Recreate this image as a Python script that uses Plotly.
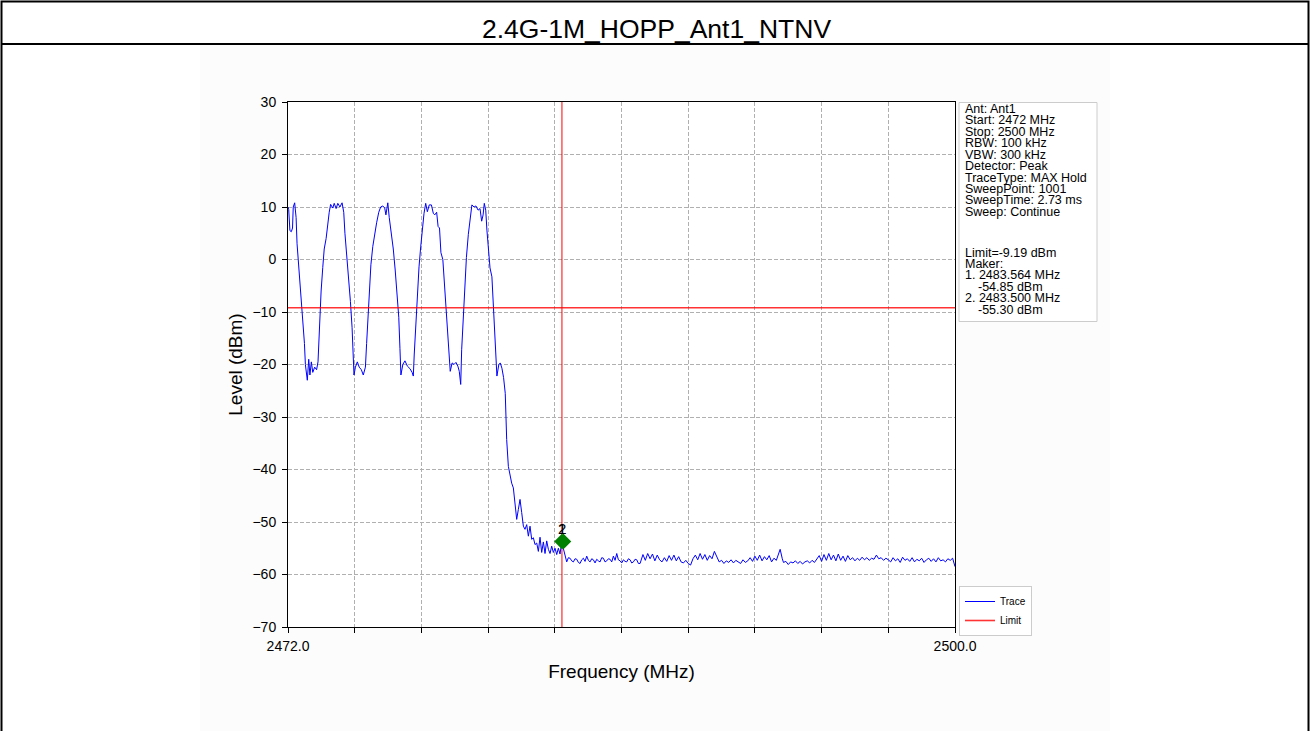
import plotly.graph_objects as go

# ---------------- data ----------------
title_text = "2.4G-1M_HOPP_Ant1_NTNV"

freq_mhz = [
    2472.00, 2472.03, 2472.08, 2472.14, 2472.19, 2472.22, 2472.28, 2472.34, 2472.38, 2472.45,
    2472.50, 2472.56, 2472.62, 2472.69, 2472.73, 2472.77, 2472.81, 2472.87, 2472.92, 2472.98,
    2473.04, 2473.12, 2473.20, 2473.26, 2473.31, 2473.39, 2473.46, 2473.52, 2473.60, 2473.67,
    2473.73, 2473.79, 2473.88, 2473.94, 2474.02, 2474.09, 2474.18, 2474.27, 2474.34, 2474.39,
    2474.46, 2474.55, 2474.62, 2474.69, 2474.73, 2474.77, 2474.83, 2474.91, 2474.99, 2475.08,
    2475.16, 2475.25, 2475.30, 2475.36, 2475.41, 2475.48, 2475.56, 2475.64, 2475.72, 2475.81,
    2475.89, 2475.98, 2476.06, 2476.11, 2476.19, 2476.25, 2476.34, 2476.42, 2476.50, 2476.58,
    2476.65, 2476.70, 2476.74, 2476.82, 2476.91, 2477.01, 2477.12, 2477.21, 2477.26, 2477.30,
    2477.36, 2477.43, 2477.50, 2477.57, 2477.65, 2477.71, 2477.78, 2477.85, 2477.93, 2478.02,
    2478.10, 2478.16, 2478.24, 2478.30, 2478.36, 2478.42, 2478.50, 2478.57, 2478.63, 2478.70,
    2478.76, 2478.81, 2478.89, 2478.97, 2479.05, 2479.13, 2479.19, 2479.25, 2479.29, 2479.35,
    2479.42, 2479.49, 2479.57, 2479.65, 2479.72, 2479.81, 2479.89, 2479.98, 2480.06, 2480.13,
    2480.19, 2480.24, 2480.30, 2480.35, 2480.41, 2480.48, 2480.56, 2480.64, 2480.71, 2480.77,
    2480.85, 2480.91, 2480.98, 2481.05, 2481.12, 2481.18, 2481.25, 2481.32, 2481.39, 2481.46,
    2481.53, 2481.60, 2481.67, 2481.74, 2481.81, 2481.88, 2481.95, 2482.02, 2482.09, 2482.16,
    2482.23, 2482.30, 2482.37, 2482.44, 2482.51, 2482.58, 2482.65, 2482.72, 2482.79, 2482.86,
    2482.93, 2483.00, 2483.07, 2483.14, 2483.21, 2483.28, 2483.35, 2483.42, 2483.49, 2483.56,
    2483.63, 2483.70, 2483.77, 2483.84, 2483.91, 2483.98, 2484.05, 2484.12, 2484.19, 2484.26,
    2484.33, 2484.40, 2484.47, 2484.54, 2484.61, 2484.68, 2484.75, 2484.82, 2484.89, 2484.96,
    2485.03, 2485.10, 2485.17, 2485.24, 2485.31, 2485.38, 2485.45, 2485.52, 2485.59, 2485.66,
    2485.73, 2485.80, 2485.87, 2485.94, 2486.01, 2486.08, 2486.15, 2486.22, 2486.29, 2486.36,
    2486.43, 2486.50, 2486.57, 2486.64, 2486.71, 2486.78, 2486.90, 2487.00, 2487.10, 2487.20,
    2487.30, 2487.40, 2487.50, 2487.60, 2487.70, 2487.80, 2487.90, 2488.00, 2488.10, 2488.20,
    2488.30, 2488.40, 2488.50, 2488.60, 2488.70, 2488.80, 2488.90, 2489.00, 2489.10, 2489.20,
    2489.30, 2489.40, 2489.50, 2489.60, 2489.70, 2489.80, 2489.90, 2490.00, 2490.10, 2490.20,
    2490.30, 2490.40, 2490.50, 2490.60, 2490.70, 2490.80, 2490.90, 2491.00, 2491.10, 2491.20,
    2491.30, 2491.40, 2491.50, 2491.60, 2491.70, 2491.80, 2491.90, 2492.00, 2492.10, 2492.20,
    2492.30, 2492.40, 2492.50, 2492.60, 2492.66, 2492.75, 2492.80, 2492.90, 2493.00, 2493.10,
    2493.20, 2493.30, 2493.40, 2493.50, 2493.60, 2493.70, 2493.80, 2493.90, 2494.00, 2494.10,
    2494.20, 2494.30, 2494.40, 2494.50, 2494.60, 2494.70, 2494.80, 2494.90, 2495.00, 2495.10,
    2495.20, 2495.30, 2495.40, 2495.50, 2495.60, 2495.70, 2495.80, 2495.90, 2496.00, 2496.10,
    2496.20, 2496.30, 2496.40, 2496.50, 2496.60, 2496.70, 2496.80, 2496.90, 2497.00, 2497.10,
    2497.20, 2497.30, 2497.40, 2497.50, 2497.60, 2497.70, 2497.80, 2497.90, 2498.00, 2498.10,
    2498.20, 2498.30, 2498.40, 2498.50, 2498.60, 2498.70, 2498.80, 2498.90, 2499.00, 2499.10,
    2499.20, 2499.30, 2499.40, 2499.50, 2499.60, 2499.70, 2499.80, 2499.90, 2500.00,
]

level_dbm = [
    10.0, 9.5, 5.5, 5.3, 6.0, 10.0, 10.8, 8.0, 3.0, -1.0,
    -5.0, -7.5, -12.0, -16.0, -20.0, -22.0, -23.0, -19.0, -22.0, -19.5,
    -21.5, -20.5, -21.0, -19.5, -13.0, -6.0, -1.5, 2.0, 4.0, 7.0,
    9.0, 10.5, 9.8, 10.7, 9.7, 10.7, 10.0, 10.8, 9.0, 5.0,
    1.5, -3.5, -8.0, -13.0, -18.0, -22.0, -20.5, -19.5, -20.5, -21.0,
    -22.0, -20.5, -16.0, -11.0, -6.0, -1.0, 2.5, 5.0, 7.0, 9.0,
    10.0, 10.2, 9.8, 8.5, 10.8, 8.0, 5.0, 2.0, -2.0, -6.0,
    -11.0, -17.0, -22.0, -20.0, -19.3, -20.3, -20.8, -21.5, -22.2, -18.0,
    -12.3, -5.3, -1.4, 2.4, 6.9, 8.8, 10.7, 9.1, 10.4, 10.4,
    8.8, 8.5, 9.0, 6.3, 6.0, 1.3, 0.0, -5.1, -9.5, -15.2,
    -19.7, -21.3, -19.7, -20.0, -19.6, -20.3, -21.3, -23.8, -17.2, -11.6,
    -4.0, 0.4, 4.8, 8.0, 10.4, 10.0, 10.2, 9.4, 9.7, 7.3,
    8.5, 10.7, 9.4, 5.6, 1.8, -1.6, -3.3, -10.2, -16.5, -22.2,
    -20.0, -19.7, -20.7, -22.5, -25.5, -34.3, -39.4, -41.3, -42.6, -43.5,
    -47.0, -49.5, -47.6, -45.7, -48.2, -50.8, -51.4, -50.5, -52.7, -50.8,
    -53.3, -53.0, -54.3, -54.0, -55.6, -52.9, -55.8, -53.8, -56.0, -53.6,
    -55.2, -56.0, -54.6, -55.8, -55.0, -56.2, -55.0, -56.1, -53.8, -55.0,
    -56.4, -57.6, -56.8, -56.9, -57.4, -57.6, -57.0, -57.1, -57.7, -57.9,
    -57.2, -56.9, -57.5, -56.5, -57.3, -57.6, -57.0, -57.2, -57.8, -57.1,
    -57.4, -57.6, -56.8, -56.9, -57.6, -57.4, -57.0, -57.1, -57.6, -56.5,
    -57.3, -56.0, -57.2, -57.4, -57.8, -57.2, -57.5, -57.6, -57.0, -57.2,
    -57.8, -57.6, -57.1, -57.2, -57.9, -57.9, -56.2, -57.3, -56.0, -57.0,
    -56.1, -57.4, -56.3, -57.2, -57.6, -56.8, -57.5, -56.4, -57.3, -56.3,
    -57.4, -56.6, -57.6, -57.8, -57.3, -57.9, -58.2, -57.0, -56.3, -57.2,
    -56.0, -57.1, -56.2, -57.3, -56.4, -57.0, -55.6, -56.8, -57.6, -57.3,
    -57.9, -57.4, -57.7, -57.2, -57.8, -57.3, -57.6, -57.9, -57.2, -57.7,
    -57.4, -56.8, -57.5, -56.5, -57.3, -56.3, -57.4, -56.6, -57.2, -56.4,
    -57.6, -56.9, -57.3, -56.2, -55.2, -57.0, -57.7, -57.5, -58.1, -57.6,
    -57.8, -57.4, -57.9, -57.5, -58.0, -57.6, -57.4, -57.8, -57.3, -57.7,
    -57.0, -56.4, -57.5, -56.2, -57.3, -56.0, -57.2, -56.3, -57.4, -56.1,
    -57.3, -56.5, -57.5, -56.4, -57.2, -56.8, -57.4, -56.9, -57.3, -56.7,
    -57.2, -56.8, -57.3, -56.9, -57.1, -56.3, -57.0, -56.8, -57.3, -56.9,
    -57.2, -57.6, -56.8, -57.4, -57.0, -57.7, -56.7, -57.3, -57.0, -57.5,
    -56.8, -57.6, -57.1, -57.4, -56.9, -57.7, -57.2, -56.9, -57.5, -57.0,
    -57.6, -56.8, -57.4, -57.2, -57.6, -57.0, -57.3, -56.9, -58.5,
]

limit_dbm = -9.19
limit_x = [2472.0, 2500.0]
cursor_freq = 2483.5
level_range = [-70, 30]

marker_freq = [2483.564, 2483.500]
marker_level = [-53.7, -53.7]
marker_label = ["1", "2"]

x_tick_vals = [2472.0, 2474.8, 2477.6, 2480.4, 2483.2, 2486.0,
               2488.8, 2491.6, 2494.4, 2497.2, 2500.0]
x_tick_text = ["2472.0", "", "", "", "", "", "", "", "", "", "2500.0"]
y_tick_vals = [30, 20, 10, 0, -10, -20, -30, -40, -50, -60, -70]

info_lines = [
    "Ant: Ant1", "Start: 2472 MHz", "Stop: 2500 MHz", "RBW: 100 kHz",
    "VBW: 300 kHz", "Detector: Peak", "TraceType: MAX Hold",
    "SweepPoint: 1001", "SweepTime: 2.73 ms", "Sweep: Continue",
    "Limit=-9.19 dBm", "Maker:", "1. 2483.564 MHz", "    -54.85 dBm",
    "2. 2483.500 MHz", "    -55.30 dBm",
]
info_line_y = [108.5, 120, 131.5, 143, 154.5, 166, 177.5, 189, 200.5, 212,
               252.7, 263.5, 275.3, 286.7, 298.3, 309.5]
info_line_indent = [0, 0, 0, 0, 0, 0, 0, 0, 0, 0, 0, 0, 0, 1, 0, 1]

# ---------------- layout helpers (pixel -> paper) ----------------
W, H = 1310, 731
PL, PR, PT, PB = 288, 955, 102, 627


def px(x):
    return (x - PL) / (PR - PL)


def py(y):
    return (PB - y) / (PB - PT)


FONT = "Liberation Sans, Arial, Helvetica, sans-serif"

fig = go.Figure()

fig.add_trace(go.Scatter(
    x=freq_mhz, y=level_dbm, mode="lines", name="Trace",
    line=dict(color="#0000ff", width=1), hoverinfo="skip",
))
fig.add_trace(go.Scatter(
    x=limit_x, y=[limit_dbm, limit_dbm], mode="lines", name="Limit",
    line=dict(color="rgba(255,0,0,0.8)", width=1.6), hoverinfo="skip",
))
fig.add_trace(go.Scatter(
    x=[cursor_freq, cursor_freq], y=level_range, mode="lines",
    line=dict(color="#ff0000", width=1), showlegend=False, hoverinfo="skip",
))
fig.add_trace(go.Scatter(
    x=marker_freq, y=marker_level, mode="markers",
    marker=dict(symbol="diamond", size=12, color="#008000",
                line=dict(width=0)),
    showlegend=False, hoverinfo="skip",
))

shapes = [
    # matplotlib figure background
    dict(type="rect", xref="paper", yref="paper", x0=px(200), x1=px(1110),
         y0=py(760), y1=py(45), fillcolor="#fcfcfc", line=dict(width=0),
         layer="below"),
    # white axes background
    dict(type="rect", xref="paper", yref="paper", x0=0, x1=1, y0=0, y1=1,
         fillcolor="#ffffff", line=dict(width=0), layer="below"),
    # outer frame
    dict(type="rect", xref="paper", yref="paper", x0=px(1.5), x1=px(1308.5),
         y0=py(760), y1=py(1.5), line=dict(color="#000000", width=2),
         fillcolor="rgba(0,0,0,0)", layer="above"),
    # title separator
    dict(type="line", xref="paper", yref="paper", x0=px(1), x1=px(1309),
         y0=py(44), y1=py(44), line=dict(color="#000000", width=2),
         layer="above"),
    # info box
    dict(type="rect", xref="paper", yref="paper", x0=px(959), x1=px(1097),
         y0=py(321.5), y1=py(102.5), line=dict(color="#cccccc", width=1),
         fillcolor="#ffffff", layer="above"),
]

annotations = [
    dict(text=title_text, xref="paper", yref="paper", x=px(656), y=py(29),
         xanchor="center", yanchor="middle", showarrow=False,
         font=dict(family=FONT, size=26.5, color="#000000")),
]
for line, yy, ind in zip(info_lines, info_line_y, info_line_indent):
    annotations.append(dict(
        text=line.strip(), xref="paper", yref="paper",
        x=px(964 + 13 * ind), y=py(yy), xanchor="left", yanchor="middle",
        showarrow=False, borderpad=0,
        font=dict(family=FONT, size=12.5, color="#000000"),
    ))
for fx, lab in zip(marker_freq, marker_label):
    annotations.append(dict(
        text=lab, x=cursor_freq, y=-51.3, xref="x", yref="y",
        xanchor="center", yanchor="middle", showarrow=False,
        font=dict(family=FONT, size=15, color="#000000"),
    ))

axis_common = dict(
    showline=True, linecolor="#000000", linewidth=1, mirror=True,
    ticks="outside", ticklen=5, tickwidth=1, tickcolor="#000000",
    showgrid=True, gridcolor="#b0b0b0", gridwidth=0.8, griddash="4px,2px",
    zeroline=False, tickfont=dict(family=FONT, size=14, color="#000000"),
)

fig.update_layout(
    width=W, height=H, autosize=False,
    margin=dict(l=PL, r=W - PR, t=PT, b=H - PB, pad=0),
    paper_bgcolor="#ffffff", plot_bgcolor="#ffffff",
    font=dict(family=FONT, color="#000000"),
    shapes=shapes, annotations=annotations,
    xaxis=dict(
        range=[2472.0, 2500.0], tickmode="array", tickvals=x_tick_vals,
        ticktext=x_tick_text, ticklabelstandoff=1,
        title=dict(text="Frequency (MHz)", standoff=11,
                   font=dict(family=FONT, size=19, color="#000000")),
        **axis_common,
    ),
    yaxis=dict(
        range=level_range, tickmode="array", tickvals=y_tick_vals,
        ticklabelstandoff=3,
        title=dict(text="Level (dBm)", standoff=4,
                   font=dict(family=FONT, size=19, color="#000000")),
        **axis_common,
    ),
    legend=dict(
        x=px(959), y=py(586), xanchor="left", yanchor="top",
        bgcolor="#ffffff", bordercolor="#cccccc", borderwidth=1,
        font=dict(family=FONT, size=10, color="#000000"),
        tracegroupgap=0, itemwidth=30,
    ),
    showlegend=True,
)

fig.write_html(
    "out.html",
    config={"displayModeBar": False},
    post_script="document.body.style.margin='0px';"
                "document.body.style.overflow='hidden';",
)
